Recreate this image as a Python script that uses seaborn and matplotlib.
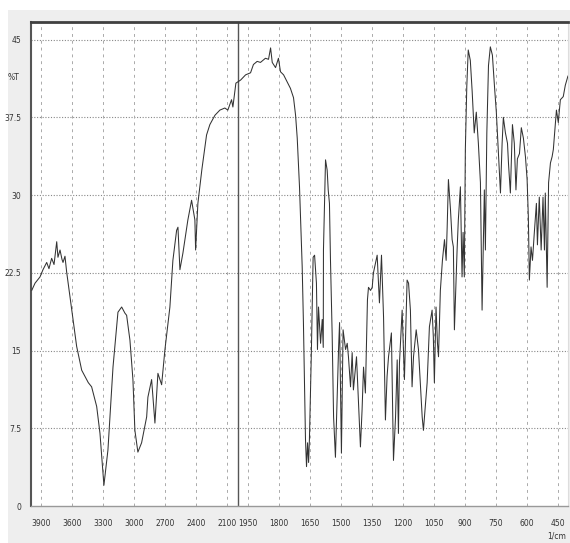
import numpy as np
import pandas as pd
import matplotlib
matplotlib.use("Agg")
import matplotlib.pyplot as plt
from matplotlib.ticker import FixedLocator, NullFormatter
from matplotlib.patches import Rectangle
import seaborn as sns

# ---- data ----
wavenumber = [3993, 3961, 3913, 3884, 3848, 3826, 3800, 3777, 3751, 3739, 3719, 3700, 3690, 3671, 3655,
              3623, 3594, 3558, 3509, 3445, 3413, 3364, 3332, 3294, 3255, 3206, 3158, 3122, 3090, 3074,
              3042, 3013, 2994, 2965, 2929, 2880, 2868, 2832, 2800, 2771, 2735, 2703, 2655, 2626, 2590,
              2577, 2558, 2529, 2481, 2445, 2413, 2406, 2384, 2345, 2300, 2268, 2219, 2171, 2123, 2094,
              2058, 2045, 2016, 1985, 1961, 1937, 1923, 1905, 1889, 1865, 1850, 1840, 1832, 1816, 1802,
              1792, 1777, 1759, 1744, 1729, 1719, 1711, 1700, 1687, 1681, 1671, 1666, 1661, 1656, 1652,
              1643, 1634, 1627, 1618, 1613, 1608, 1598, 1590, 1585, 1584, 1574, 1566, 1561, 1555, 1550,
              1542, 1535, 1526, 1511, 1506, 1497, 1489, 1477, 1469, 1463, 1453, 1445, 1439, 1424, 1405,
              1397, 1390, 1381, 1371, 1366, 1356, 1348, 1342, 1324, 1313, 1303, 1293, 1284, 1276, 1269,
              1255, 1245, 1235, 1227, 1221, 1216, 1203, 1192, 1179, 1172, 1163, 1155, 1148, 1135, 1124,
              1106, 1100, 1082, 1071, 1058, 1052, 1047, 1039, 1032, 1027, 1018, 1008, 998, 990, 985,
              979, 969, 961, 955, 950, 937, 931, 921, 913, 908, 902, 897, 890, 883, 873,
              864, 854, 844, 834, 824, 816, 805, 800, 793, 785, 776, 766, 756, 747, 737,
              727, 719, 713, 703, 693, 688, 679, 669, 660, 652, 645, 635, 626, 616, 606,
              598, 592, 587, 579, 572, 563, 553, 548, 539, 530, 521, 514, 510, 501, 494,
              485, 477, 471, 456, 447, 437, 423, 413, 400]
transmittance = [20.8, 21.5, 22.1, 22.8, 23.5, 22.9, 23.9, 23.3, 25.5, 24.0, 24.7, 23.8, 23.5, 24.1, 22.6,
                 20.2, 18.0, 15.4, 13.1, 11.9, 11.5, 9.6, 7.0, 2.0, 5.4, 13.4, 18.7, 19.2, 18.6, 18.4,
                 16.0, 12.2, 7.3, 5.2, 6.1, 8.6, 10.5, 12.2, 8.0, 12.8, 11.7, 15.1, 19.2, 23.7, 26.6,
                 26.9, 22.8, 24.4, 27.6, 29.5, 27.6, 24.7, 29.2, 32.5, 35.8, 36.8, 37.7, 38.2, 38.4, 38.2,
                 39.2, 38.5, 40.8, 41.1, 41.6, 41.8, 42.6, 42.9, 42.8, 43.2, 43.1, 44.2, 42.8, 42.3, 43.2,
                 41.9, 41.6, 40.9, 40.3, 39.4, 37.7, 35.5, 30.8, 23.1, 17.7, 6.4, 3.8, 6.1, 4.2, 6.4,
                 14.4, 24.0, 24.2, 21.5, 15.1, 19.2, 15.7, 18.0, 15.3, 24.7, 33.4, 32.4, 30.5, 29.2, 23.7,
                 16.7, 8.6, 4.7, 15.1, 17.7, 5.1, 17.0, 15.1, 15.7, 14.4, 11.5, 14.8, 11.2, 14.4, 5.7,
                 9.3, 13.4, 10.9, 19.9, 21.1, 20.8, 21.1, 22.5, 24.2, 19.6, 24.2, 18.2, 8.3, 12.5, 14.4,
                 16.7, 4.4, 8.6, 14.1, 7.0, 13.8, 18.9, 12.2, 21.8, 21.5, 18.9, 11.5, 14.4, 17.0, 15.1,
                 8.6, 7.3, 11.9, 17.3, 18.9, 16.3, 11.9, 19.2, 15.7, 14.4, 20.8, 23.7, 25.7, 23.7, 26.9,
                 31.5, 28.6, 25.7, 25.0, 17.0, 24.7, 27.6, 30.8, 22.1, 26.4, 22.1, 34.4, 40.5, 44.0, 43.0,
                 40.0, 36.0, 38.0, 35.0, 31.2, 18.9, 30.5, 24.7, 36.0, 42.5, 44.3, 43.5, 40.5, 38.0, 34.0,
                 30.2, 35.0, 37.5, 36.0, 35.0, 33.0, 30.2, 36.8, 35.0, 30.5, 33.5, 34.0, 36.5, 35.5, 33.7,
                 31.5, 27.9, 21.8, 25.0, 23.7, 26.4, 29.2, 25.2, 29.8, 24.7, 29.8, 24.7, 30.2, 21.1, 31.2,
                 33.1, 33.7, 34.4, 38.2, 37.0, 39.2, 39.5, 40.6, 41.5]

x_tick_values = [3900, 3600, 3300, 3000, 2700, 2400, 2100, 1950, 1800, 1650, 1500, 1350, 1200, 1050, 900, 750, 600, 450]
x_tick_labels = ["3900", "3600", "3300", "3000", "2700", "2400", "2100", "1950", "1800", "1650",
                 "1500", "1350", "1200", "1050", "900", "750", "600", "450"]
y_tick_values = [0, 7.5, 15, 22.5, 30, 37.5, 45]
y_tick_labels = ["0", "7.5", "15", "22.5", "30", "37.5", "45"]

df = pd.DataFrame({"wavenumber": wavenumber, "T": transmittance})

# ---- figure ----
sns.set_style("white")
W, H = 570, 543
fig = plt.figure(figsize=(W / 100, H / 100), dpi=100)
fig.patch.set_facecolor("white")
fig.add_artist(Rectangle((8 / W, 0), 1, 1 - 10 / H, transform=fig.transFigure,
                         facecolor="#eeeeee", edgecolor="none", zorder=0))

ax = fig.add_axes([31 / W, (H - 506) / H, (568 - 31) / W, (506 - 22) / H])
ax.set_facecolor("white")


def fwd(x):
    x = np.asarray(x, dtype=float)
    return np.where(x >= 2000, x, 2 * x - 2000)


def inv(y):
    y = np.asarray(y, dtype=float)
    return np.where(y >= 2000, y, (y + 2000) / 2)


ax.set_xscale("function", functions=(fwd, inv))

sns.lineplot(data=df, x="wavenumber", y="T", estimator=None, sort=False,
             color="#333333", linewidth=0.75, ax=ax, zorder=3)

ax.set_xlim(4000, 400)
ax.set_ylim(0, 46.7)
ax.set_xlabel("")
ax.set_ylabel("")

# ticks
ax.xaxis.set_major_locator(FixedLocator(x_tick_values))
ax.set_xticklabels(x_tick_labels)
minor_x = list(np.arange(3960, 2000, -60)) + list(np.arange(1980, 400, -30))
ax.xaxis.set_minor_locator(FixedLocator(minor_x))
ax.xaxis.set_minor_formatter(NullFormatter())

ax.yaxis.set_major_locator(FixedLocator(y_tick_values))
ax.set_yticklabels(y_tick_labels)
ax.yaxis.set_minor_locator(FixedLocator(list(np.arange(0, 46.6, 1.5))))
ax.yaxis.set_minor_formatter(NullFormatter())

ax.tick_params(axis="x", which="major", direction="out", length=5, width=0.8,
               color="#666666", labelsize=5.5, labelcolor="#333333", pad=4)
ax.tick_params(axis="x", which="minor", direction="out", length=3, width=0.6, color="#888888")
ax.tick_params(axis="y", which="major", direction="out", length=5, width=1.3,
               color="#444444", labelsize=5.5, labelcolor="#333333", pad=2)
ax.tick_params(axis="y", which="minor", direction="out", length=3.5, width=1.2, color="#444444")

# grid
for yv in y_tick_values[1:]:
    ax.axhline(yv, color="#888888", linestyle=(0, (1, 1.5)), linewidth=0.8, zorder=1)
for xv in x_tick_values:
    ax.axvline(xv, color="#aaaaaa", linestyle=(0, (3, 4)), linewidth=0.7, zorder=1)
ax.axvline(2000, color="#555555", linewidth=1.0, zorder=2)

# spines
ax.spines["top"].set_color("#404040")
ax.spines["top"].set_linewidth(2.0)
ax.spines["left"].set_color("#555555")
ax.spines["left"].set_linewidth(1.5)
ax.spines["right"].set_color("#dddddd")
ax.spines["right"].set_linewidth(0.8)
ax.spines["bottom"].set_color("#999999")
ax.spines["bottom"].set_linestyle((0, (1, 1)))
ax.spines["bottom"].set_linewidth(1.0)

# axis unit labels
fig.text(14 / W, 1 - 77 / H, "%T", fontsize=5.5, color="#333333",
         ha="center", va="center")
fig.text(557 / W, 1 - 536 / H, "1/cm", fontsize=5.5, color="#333333",
         ha="center", va="center")

fig.savefig("out.png", dpi=100)
